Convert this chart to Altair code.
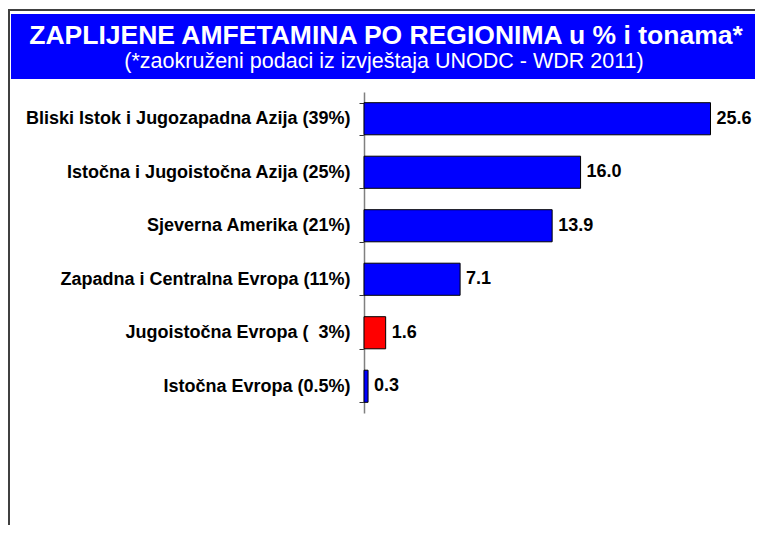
import altair as alt
import pandas as pd

regions = [
    "Bliski Istok i Jugozapadna Azija (39%)",
    "Istočna i Jugoistočna Azija (25%)",
    "Sjeverna Amerika (21%)",
    "Zapadna i Centralna Evropa (11%)",
    "Jugoistočna Evropa ( \u00a03%)",
    "Istočna Evropa (0.5%)",
]
tons = [25.6, 16.0, 13.9, 7.1, 1.6, 0.3]
highlight = ["no", "no", "no", "no", "yes", "no"]

title_lines = [
    "ZAPLIJENE AMFETAMINA PO REGIONIMA u % i tonama*",
    "(*zaokruženi podaci iz izvještaja UNODC - WDR 2011)",
]

df = pd.DataFrame({"region": regions, "tons": tons, "hl": highlight})

W, H = 379, 321
LEFT, TOP, RIGHT, BOTTOM = 356, 84, 12, 112
FONT = "Liberation Sans"

y_enc = alt.Y(
    "region:N",
    sort=None,
    scale=alt.Scale(paddingInner=0.4, paddingOuter=0.2),
    axis=alt.Axis(
        title=None,
        tickBand="extent",
        domainColor="#808080",
        domainWidth=1.5,
        tickColor="#333333",
        tickSize=5,
        labelPadding=9,
        labelFont=FONT,
        labelFontSize=18,
        labelFontWeight="bold",
        labelColor="#000000",
        labelLimit=400,
        grid=False,
    ),
)
x_enc = alt.X("tons:Q", scale=alt.Scale(domain=[0, 28], nice=False), axis=None)

bars = alt.Chart(df).mark_bar(stroke="#000000", strokeWidth=1).encode(
    y=y_enc,
    x=x_enc,
    color=alt.Color(
        "hl:N",
        scale=alt.Scale(domain=["no", "yes"], range=["#0000FF", "#FF0000"]),
        legend=None,
    ),
)

labels = alt.Chart(df).mark_text(
    align="left", baseline="middle", dx=6, font=FONT, fontSize=18,
    fontWeight="bold", color="#000000"
).encode(
    y=alt.Y("region:N", sort=None),
    x="tons:Q",
    text=alt.Text("tons:Q", format=".1f"),
)

box = alt.Chart(pd.DataFrame({"k": [0]})).mark_rect(color="#0000FF").encode(
    x=alt.value(-353), x2=alt.value(W + RIGHT), y=alt.value(-78), y2=alt.value(-13)
)

frame_top = alt.Chart(pd.DataFrame({"k": [0]})).mark_rule(
    color="#404040", strokeWidth=2
).encode(x=alt.value(-356), x2=alt.value(W + RIGHT), y=alt.value(-82))

frame_left = alt.Chart(pd.DataFrame({"k": [0]})).mark_rule(
    color="#404040", strokeWidth=2
).encode(x=alt.value(-355), y=alt.value(-83), y2=alt.value(H + BOTTOM))

t1 = alt.Chart(pd.DataFrame({"t": [title_lines[0]]})).mark_text(
    align="center", baseline="alphabetic", font=FONT, fontSize=26.5,
    fontWeight="bold", color="#FFFFFF"
).encode(x=alt.value(22), y=alt.value(-48), text="t:N")

t2 = alt.Chart(pd.DataFrame({"t": [title_lines[1]]})).mark_text(
    align="center", baseline="alphabetic", font=FONT, fontSize=21.5,
    color="#FFFFFF"
).encode(x=alt.value(20), y=alt.value(-24), text="t:N")

chart = alt.layer(frame_top, frame_left, box, t1, t2, bars, labels).properties(
    width=W,
    height=H,
    autosize=alt.AutoSizeParams(type="none"),
    padding={"left": LEFT, "top": TOP, "right": RIGHT, "bottom": BOTTOM},
    background="#FFFFFF",
).configure_view(stroke=None)

chart.save("out.html", embed_options={"renderer": "svg", "actions": False})
